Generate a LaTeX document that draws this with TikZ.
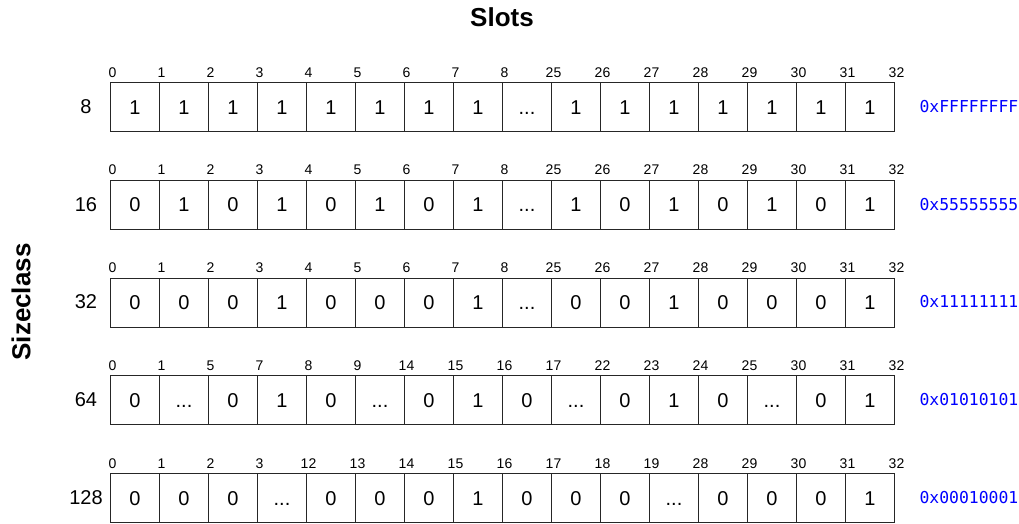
\documentclass[tikz,border=0pt]{standalone}
\usepackage{fontspec}
\setmainfont{Liberation Sans}
\setmonofont{DejaVu Sans Mono}

\begin{document}
\begin{tikzpicture}[x=1pt, y=-1pt, font=\fontsize{20}{24}\selectfont,
		cell/.style={draw=black!85, line width=1pt, minimum width=49pt, minimum height=49pt, inner sep=0pt, text height=14.3pt, text depth=0pt, anchor=north west},
		idx/.style={font=\fontsize{14}{16}\selectfont, anchor=base},
		hex/.style={font=\ttfamily\fontsize{16.4}{18}\selectfont, text=blue, anchor=west},
		title/.style={font=\bfseries\fontsize{26}{30}\selectfont}]
		\useasboundingbox (0,0) rectangle (1019,523);
		\def\W{49}\def\X{110}\def\H{97.75}\def\ellip{...}
		% axis titles
		\node[title] (slots) at (502,17) {Slots};
		\node[title, rotate=90] (sizeclass) at (21,302) {Sizeclass};
		% one row per sizeclass: cells, slot indices, bitmap
		\foreach \r/\s/\h/\vals/\idxs in {
			1/8/FFFFFFFF/{1,1,1,1,1,1,1,1,\ellip,1,1,1,1,1,1,1}/{0,1,2,3,4,5,6,7,8,25,26,27,28,29,30,31,32},
			2/16/55555555/{0,1,0,1,0,1,0,1,\ellip,1,0,1,0,1,0,1}/{0,1,2,3,4,5,6,7,8,25,26,27,28,29,30,31,32},
			3/32/11111111/{0,0,0,1,0,0,0,1,\ellip,0,0,1,0,0,0,1}/{0,1,2,3,4,5,6,7,8,25,26,27,28,29,30,31,32},
			4/64/01010101/{0,\ellip,0,1,0,\ellip,0,1,0,\ellip,0,1,0,\ellip,0,1}/{0,1,5,7,8,9,14,15,16,17,22,23,24,25,30,31,32},
			5/128/00010001/{0,0,0,\ellip,0,0,0,1,0,0,0,\ellip,0,0,0,1}/{0,1,2,3,12,13,14,15,16,17,18,19,28,29,30,31,32}}
		{
			\pgfmathsetmacro{\y}{82+(\r-1)*\H}
			\node (s\r) at (86,\y+24.5) {\s};
			\foreach \v [count=\i] in \vals
				\node[cell] (c\r-\i) at ({\X+(\i-1)*\W},\y) {\v};
			\foreach \t [count=\i] in \idxs
				\node[idx] (i\r-\i) at ({\X+(\i-1)*\W+2.5},\y-5) {\t};
			\node[hex] (h\r) at (916,\y+24.5) {0x\h};
		}
	\end{tikzpicture}
\end{document}
